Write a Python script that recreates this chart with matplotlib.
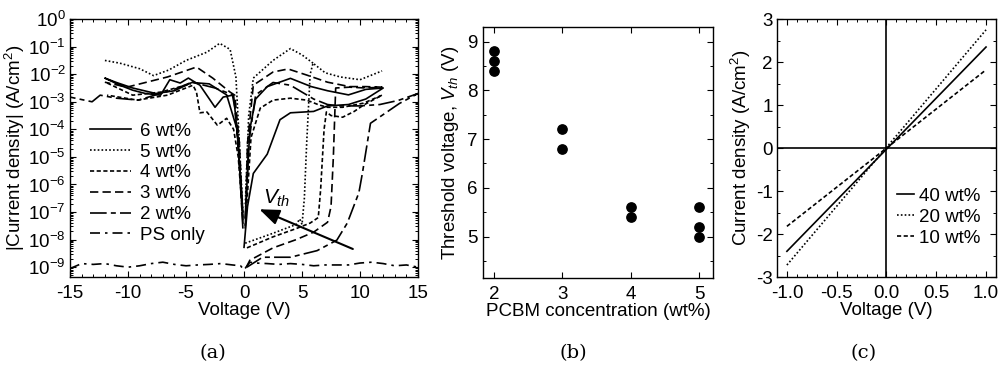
import numpy as np
import matplotlib
matplotlib.use('Agg')
import matplotlib.pyplot as plt
from matplotlib.ticker import MultipleLocator, LogLocator, NullFormatter

plt.rcParams['font.family'] = ['Liberation Sans', 'DejaVu Sans']
plt.rcParams['mathtext.fontset'] = 'custom'
plt.rcParams['mathtext.rm'] = 'Liberation Sans'
plt.rcParams['mathtext.it'] = 'Liberation Sans:italic'
plt.rcParams['font.size'] = 13.5
plt.rcParams['axes.unicode_minus'] = False

nan = np.nan

# (a) |J|-V sweeps, log10 of current density (nan = break between branches)
v_6wt = [0.0, 0.3, 0.8, 2.0, 3.1, 4.0, 6.0, 7.2, 9.0, 10.5, 12.0,
         10.5, 9.0, 7.2, 5.8, 4.0, 3.0, 2.0, 1.0, 0.5, 0.1, nan,
         -0.1, -0.5, -0.8, -1.0, -1.8, -2.5, -3.8, -4.8, -5.5, -6.4, -7.2, -8.5, -9.6, -10.7, -12.0,
         -11.0, -9.6, -7.6, -6.0, -4.5, -3.0, -1.5, -0.6, -0.1]
lj_6wt = [-8.28, -6.8, -5.6, -4.9, -3.65, -3.4, -3.35, -3.15, -3.1, -2.9, -2.5,
          -2.55, -2.75, -2.6, -2.45, -2.15, -2.3, -2.45, -2.9, -4.0, -7.2, nan,
          -7.4, -4.5, -3.2, -2.76, -2.83, -3.2, -2.4, -2.14, -2.32, -2.2, -2.76, -2.7, -2.58, -2.4, -2.14,
          -2.3, -2.5, -2.7, -2.6, -2.3, -2.35, -2.75, -4.0, -7.0]

v_5wt = [0.1, 2.5, 4.5, 4.8, 5.0, 5.2, 5.4, 5.7, 5.95, 7.0, 8.3, 10.0, 11.9, nan,
         5.95, 5.0, 4.0, 2.5, 0.8, 0.4, 0.1, nan,
         -0.1, -0.4, -0.7, -1.2, -2.1, -3.2, -5.0, -6.5, -7.8, -9.0, -10.7, -12.0]
lj_5wt = [-8.13, -7.77, -7.45, -7.25, -7.45, -6.5, -4.5, -2.0, -1.6, -1.95, -2.1, -2.2, -1.88, nan,
          -1.6, -1.3, -1.07, -1.5, -2.14, -3.5, -6.8, nan,
          -7.0, -4.5, -2.1, -1.1, -0.88, -1.2, -1.5, -1.85, -2.05, -1.8, -1.6, -1.5]

v_4wt = [0.25, 2.5, 4.5, 5.7, 6.4, 6.6, 6.9, 7.1, 7.5, 8.5, 9.5, 10.3, 11.9,
         10.3, 8.5, 7.2, 6.5, 5.4, 4.0, 2.5, 1.4, 0.6, 0.2, nan,
         -0.1, -0.5, -0.9, -1.5, -2.3, -3.2, -3.8, -4.1, -4.4, -6.6, -9.2, -11.8, nan,
         -11.8, -9.6, -7.2, -4.6]
lj_4wt = [-8.3, -7.9, -7.6, -7.4, -7.2, -6.2, -4.0, -3.37, -3.5, -3.56, -3.35, -3.12, -2.76,
          -3.05, -3.2, -3.2, -3.12, -2.94, -2.87, -2.94, -3.23, -4.3, -7.0, nan,
          -7.2, -5.0, -4.0, -3.6, -3.85, -3.37, -3.4, -2.65, -2.4, -2.76, -2.94, -2.76, nan,
          -2.32, -2.76, -2.65, -2.35]

v_3wt = [0.2, 0.5, 2.5, 4.5, 6.0, 7.2, 7.5, 7.7, 7.9, 9.1, 10.5, 11.9,
         10.5, 9.1, 7.2, 5.4, 3.8, 2.5, 0.8, 0.3, 0.1, nan,
         -0.1, -0.4, -0.8, -1.2, -2.7, -4.1, -6.6, -8.4, -10.1, -12.0]
lj_3wt = [-9.0, -8.75, -8.3, -8.0, -7.73, -7.37, -6.8, -5.0, -2.5, -2.47, -2.5, -2.47,
          -2.45, -2.45, -2.29, -2.03, -1.81, -1.92, -2.4, -4.5, -7.5, nan,
          -7.3, -4.5, -2.76, -2.65, -2.14, -1.74, -2.1, -2.29, -2.47, -2.29]

v_2wt = [0.25, 1.6, 4.0, 6.3, 8.0, 8.9, 9.9, 10.2, 10.9, 11.7, 13.4, 15.0,
         13.3, 11.7, 10.0, 8.3, 7.2, 6.0, 4.0, 2.5, 1.0, 0.4, 0.1, nan,
         -0.1, -0.5, -0.9, -2.5, -4.5, -6.2, -7.7, -9.1, -11.0, -12.4, -13.1, -15.0]
lj_2wt = [-9.0, -8.64, -8.64, -8.4, -8.02, -7.4, -6.3, -5.6, -3.78, -3.55, -3.06, -2.7,
          -2.95, -3.1, -3.15, -3.15, -3.1, -2.9, -2.4, -2.3, -2.75, -4.5, -7.6, nan,
          -7.6, -4.5, -2.76, -2.5, -2.29, -2.58, -2.76, -2.94, -2.87, -2.76, -3.0, -2.83]

v_ps = [-15, -14, -13, -12, -11, -10, -9, -8, -7, -6, -5, -4, -3, -2, -1, -0.3, 0.0, 0.5,
        1, 2, 3, 4, 5, 6, 7, 8, 9, 10, 11, 12, 13, 14, 15]
lj_ps = [-9.05, -8.87, -8.9, -8.87, -8.95, -9.0, -8.95, -8.87, -8.82, -8.9, -8.95, -8.92, -8.9,
         -8.87, -8.92, -8.95, -9.1, -8.82, -8.85, -8.87, -8.9, -8.87, -8.9, -8.95, -8.92, -8.92,
         -8.92, -8.85, -8.82, -8.87, -8.95, -8.92, -9.0]

# (b) threshold voltage vs PCBM concentration
pcbm = [2, 2, 2, 3, 3, 4, 4, 5, 5, 5]
vth = [8.8, 8.6, 8.4, 7.2, 6.8, 5.6, 5.4, 5.6, 5.2, 5.0]

# (c) linear J-V
v_lin = [-1.0, 1.0]
j_40wt = [-2.4, 2.35]
j_20wt = [-2.72, 2.75]
j_10wt = [-1.82, 1.82]

fig = plt.figure(figsize=(10.02, 3.67), dpi=100)
ax1 = fig.add_axes([0.0699, 0.245, 0.3473, 0.703])
ax2 = fig.add_axes([0.482, 0.2425, 0.2295, 0.684])
ax3 = fig.add_axes([0.7754, 0.245, 0.2186, 0.703])

styles = [
    (v_6wt, lj_6wt, '6 wt%', '-'),
    (v_5wt, lj_5wt, '5 wt%', (0, (1, 1.3))),
    (v_4wt, lj_4wt, '4 wt%', (0, (2.5, 1.5))),
    (v_3wt, lj_3wt, '3 wt%', (0, (5, 2.5))),
    (v_2wt, lj_2wt, '2 wt%', (0, (10, 2.5, 3, 2.5))),
    (v_ps, lj_ps, 'PS only', (0, (6, 3, 1.5, 3))),
]
for v, lj, lab, ls in styles:
    ax1.plot(v, 10.0 ** np.array(lj), color='black', lw=1.2, linestyle=ls, label=lab)

ax1.set_yscale('log')
ax1.set_xlim(-15, 15)
ax1.set_ylim(10 ** -9.36, 1)
ax1.xaxis.set_major_locator(MultipleLocator(5))
ax1.xaxis.set_minor_locator(MultipleLocator(1))
ax1.yaxis.set_major_locator(LogLocator(base=10, numticks=20))
ax1.yaxis.set_minor_locator(LogLocator(base=10, subs=np.arange(2, 10), numticks=20))
ax1.yaxis.set_minor_formatter(NullFormatter())
ax1.set_xlabel('Voltage (V)', labelpad=0)
ax1.set_ylabel('|Current density| (A/cm$^2$)', labelpad=1)
ax1.legend(loc='upper left', bbox_to_anchor=(0.02, 0.65), frameon=False,
           handlelength=2.2, handletextpad=0.45, labelspacing=0.2, borderpad=0.2)
ax1.annotate('', xy=(1.1, 10 ** -6.86), xytext=(9.6, 10 ** -8.38),
             arrowprops=dict(arrowstyle='-|>,head_length=0.9,head_width=0.35', color='black', lw=1.5))
ax1.text(1.6, 10 ** -6.5, '$V_{th}$', fontsize=15, va='center', ha='left')

ax2.scatter(pcbm, vth, s=45, color='black', zorder=3)
ax2.set_xlim(1.84, 5.2)
ax2.set_ylim(4.15, 9.3)
ax2.xaxis.set_major_locator(MultipleLocator(1))
ax2.yaxis.set_major_locator(MultipleLocator(1))
ax2.yaxis.set_minor_locator(MultipleLocator(0.5))
ax2.set_xlabel('PCBM concentration (wt%)', labelpad=0)
ax2.set_ylabel('Threshold voltage, $V_{th}$ (V)', labelpad=4)

ax3.plot(v_lin, j_40wt, color='black', lw=1.2, linestyle='-', label='40 wt%')
ax3.plot(v_lin, j_20wt, color='black', lw=1.2, linestyle=(0, (1, 1.3)), label='20 wt%')
ax3.plot(v_lin, j_10wt, color='black', lw=1.2, linestyle=(0, (2.5, 1.5)), label='10 wt%')
ax3.axhline(0, color='black', lw=1.2)
ax3.axvline(0, color='black', lw=1.2)
ax3.set_xlim(-1.1, 1.1)
ax3.set_ylim(-3, 3)
ax3.xaxis.set_major_locator(MultipleLocator(0.5))
ax3.xaxis.set_minor_locator(MultipleLocator(0.1))
ax3.xaxis.set_major_formatter(matplotlib.ticker.FormatStrFormatter('%.1f'))
ax3.yaxis.set_major_locator(MultipleLocator(1))
ax3.yaxis.set_minor_locator(MultipleLocator(0.5))
ax3.set_xlabel('Voltage (V)', labelpad=0)
ax3.set_ylabel('Current density (A/cm$^2$)', labelpad=2)
ax3.legend(loc='lower right', frameon=False, handlelength=0.9, handletextpad=0.3,
           labelspacing=0.2, borderpad=0.3, bbox_to_anchor=(1.0, 0.06))

for ax in (ax1, ax2, ax3):
    ax.tick_params(which='both', direction='in', top=True, right=True)
    ax.tick_params(which='major', length=4, width=0.8, pad=6)
    ax.tick_params(which='minor', length=2, width=0.7)
    for sp in ax.spines.values():
        sp.set_linewidth(1.0)
ax1.tick_params(axis='y', which='major', pad=3)
ax2.tick_params(axis='y', which='major', pad=4)
ax3.tick_params(axis='y', which='major', pad=3)

for x, s in [(0.212, '(a)'), (0.572, '(b)'), (0.862, '(c)')]:
    fig.text(x, 0.038, s, ha='center', va='center', fontsize=14, family='DejaVu Serif')

fig.savefig('out.png', dpi=100)
